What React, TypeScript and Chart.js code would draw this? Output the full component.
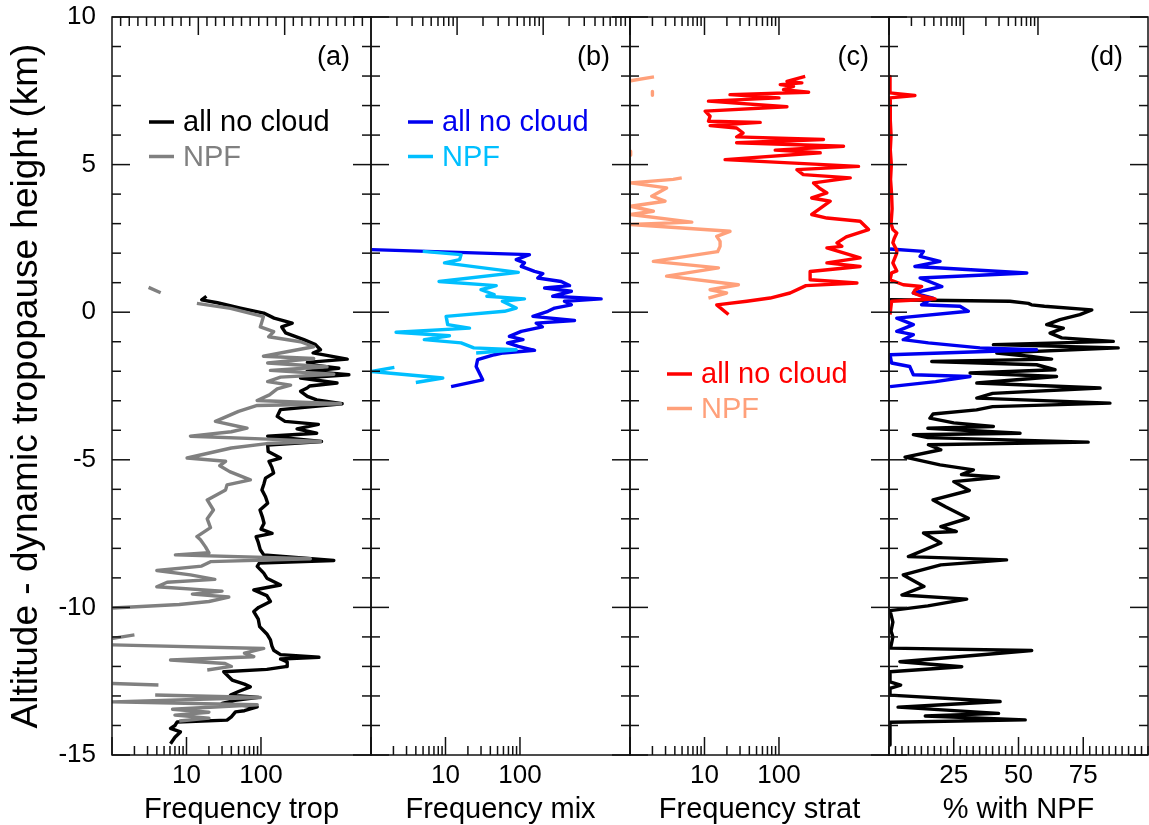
import React, { useEffect, useRef } from 'react';
import { Chart, registerables } from 'chart.js';

Chart.register(...registerables);

const FONT = '"Liberation Sans", Arial, Helvetica, sans-serif';

// ---------- axis ticks ----------
const altLabels = [-15, -10, -5, 0, 5, 10];
const altMarks = [10, 9, 8, 7, 6, 5, 4, 3, 2, 1, 0, -1, -2, -3, -4, -5, -6, -7, -8, -9, -10, -11, -12, -13, -14, -15];
const altMajor = [10, 5, 0, -5, -10, -15];
const freqLabels = [10, 100];
const freqMarks = [1, 2, 3, 4, 5, 6, 7, 8, 9, 10, 20, 30, 40, 50, 60, 70, 80, 90, 100];
const freqMajor = [1, 10, 100];
const freqTopCMarks = [2, 3, 4, 5, 6, 7, 8, 9, 10, 20, 30, 40, 50, 60, 70, 80, 90, 100, 200, 300, 400, 500, 600, 700, 800, 900];
const freqTopCMajor = [10, 100];
const pctLabels = [25, 50, 75];
const pctMarks = [0, 2.5, 5, 7.5, 10, 12.5, 15, 17.5, 20, 22.5, 25, 27.5, 30, 32.5, 35, 37.5, 40, 42.5, 45, 47.5, 50, 52.5, 55, 57.5, 60, 62.5, 65, 67.5, 70, 72.5, 75, 77.5, 80, 82.5, 85, 87.5, 90, 92.5, 95, 97.5, 100];
const pctMajor = [25, 50, 75];
const pctTopMarks = [1, 2, 3, 4, 5, 6, 7, 8, 9, 10, 11, 12, 13, 14, 15, 16, 17, 18, 19, 20, 21, 22, 23, 24, 25, 26, 27, 28, 29];
const pctTopMajor = [10, 20];

// ---------- data: [altitude km, value] ----------
type P = [number, number | null];

const tropAll: P[] = [
  [0.54, 18.5], [0.42, 16], [0.32, 26], [0.14, 53], [-0.03, 109], [-0.2, 150], [-0.37, 263], [-0.5, 190], [-0.7, 214],
  [-0.93, 376], [-1.1, 540], [-1.27, 630], [-1.38, 500], [-1.59, 1440], [-1.7, 420], [-1.78, 463], [-1.9, 1110], [-2.0, 417],
  [-2.12, 1515], [-2.23, 340], [-2.4, 1050], [-2.5, 450], [-2.57, 417], [-2.68, 340], [-2.85, 420], [-2.97, 560], [-3.1, 1230],
  [-3.3, 183], [-3.53, 165], [-3.7, 210], [-3.8, 590], [-3.95, 305], [-4.1, 560], [-4.2, 123], [-4.38, 650], [-4.5, 123],
  [-4.72, 125], [-4.94, 183], [-5.05, 128], [-5.25, 140], [-5.45, 148], [-5.62, 115], [-5.8, 110], [-6.02, 103], [-6.25, 115],
  [-6.47, 123], [-6.7, 97], [-6.95, 105], [-7.15, 110], [-7.35, 100], [-7.49, 141], [-7.6, 86], [-7.8, 92], [-8.05, 98],
  [-8.22, 109], [-8.41, 950], [-8.5, 95], [-8.61, 89], [-8.84, 109], [-9.01, 120], [-9.24, 183], [-9.41, 80], [-9.6, 120],
  [-9.8, 134], [-10.0, 93], [-10.14, 80], [-10.4, 92], [-10.65, 96], [-10.9, 120], [-11.1, 134], [-11.3, 140], [-11.45, 148],
  [-11.6, 183], [-11.69, 600], [-11.75, 183], [-11.85, 225], [-12.0, 225], [-12.1, 120], [-12.18, 31.6], [-12.35, 37],
  [-12.46, 41], [-12.6, 60], [-12.69, 72], [-12.85, 50], [-12.97, 39], [-13.05, 93], [-13.15, 45], [-13.25, 30], [-13.37, 89],
  [-13.5, 60], [-13.54, 45.5], [-13.71, 40], [-13.82, 35], [-13.88, 7.5], [-14.0, 7.0], [-14.1, 6.1], [-14.22, 8.3],
  [-14.4, 7.0], [-14.62, 6.1],
];

const tropNpf: P[] = [
  [0.84, 3.1], [0.66, 4.5], [0.5, null],
  [0.3, 13.8], [0.13, 39], [-0.15, 108], [-0.5, 98], [-0.66, 148], [-0.83, 127], [-1.0, 340], [-1.17, 510], [-1.34, 223],
  [-1.49, 108], [-1.57, 510], [-1.72, 123], [-1.85, 770], [-1.97, 134], [-2.1, 950], [-2.2, 183], [-2.35, 123], [-2.47, 250],
  [-2.6, 165], [-2.8, 130], [-2.99, 89], [-3.1, 1175], [-3.16, 89], [-3.36, 50], [-3.7, 24.5], [-3.93, 65], [-4.05, 40],
  [-4.2, 11.3], [-4.3, 123], [-4.38, 630], [-4.45, 120], [-4.6, 40], [-4.94, 10.2], [-5.05, 33.5], [-5.2, 28], [-5.4, 38],
  [-5.68, 72], [-5.85, 35], [-6.02, 33.5], [-6.36, 19], [-6.7, 23], [-7.0, 19], [-7.3, 21], [-7.6, 13.8], [-7.71, 15.4],
  [-7.95, 18], [-8.15, 20], [-8.22, 7.1], [-8.35, 460], [-8.45, 21], [-8.6, 16], [-8.75, 4.0], [-8.9, 11.3], [-9.05, 24],
  [-9.15, 5.5], [-9.3, 4.0], [-9.45, 30], [-9.55, 12], [-9.65, 37], [-9.8, 20], [-9.9, 8], [-10.02, 1.02], [-10.5, null],
  [-10.93, 2.0], [-11.05, 1.02], [-11.15, null],
  [-11.27, 1.02], [-11.39, 109], [-11.55, 60], [-11.67, 80], [-11.78, 6.1], [-11.9, 33], [-12.0, 40], [-12.12, 19], [-12.3, null],
  [-12.58, 1.02], [-12.63, 4.2], [-12.8, null],
  [-12.97, 3.8], [-13.05, 98], [-13.2, 1.02], [-13.3, 89], [-13.45, 6.5], [-13.55, 20], [-13.65, 7], [-13.75, 20], [-13.85, 8],
];

const mixAll: P[] = [
  [2.12, 1.02], [1.95, 134], [1.78, 89], [1.67, 115], [1.55, 104], [1.38, 157], [1.31, 203], [1.16, 173], [1.04, 358],
  [0.9, 463], [0.82, 214], [0.71, 490], [0.54, 275], [0.45, 1230], [0.37, 395], [0.25, 490], [0.14, 292], [0.03, 237],
  [-0.14, 149], [-0.28, 540], [-0.37, 165], [-0.5, 200], [-0.65, 104], [-0.82, 72], [-0.93, 110], [-1.04, 68], [-1.16, 95],
  [-1.29, 157], [-1.38, 60], [-1.44, 45.5], [-1.61, 27], [-1.84, 25.8], [-2.06, 28.5], [-2.29, 31.6], [-2.52, 11.9],
];

const mixNpf: P[] = [
  [2.06, 4.95], [1.95, 16.2], [1.78, 15.5], [1.67, 9.7], [1.35, 95], [1.04, 8.2], [0.9, 48], [0.76, 30], [0.6, 45],
  [0.54, 36], [0.45, 115], [0.37, 58], [0.14, 89], [0.03, 62], [-0.14, 10.2], [-0.42, 10.7], [-0.54, 21], [-0.68, 2.17],
  [-0.8, 11.3], [-0.93, 5.2], [-1.04, 16.2], [-1.21, 24], [-1.27, 89], [-1.38, 25.8], [-1.6, null],
  [-1.87, 2.06], [-2.01, 1.02], [-2.23, 9.2], [-2.38, 4.0],
];

const stratAll: P[] = [
  [7.99, 225], [7.82, 128], [7.77, 203], [7.71, 104], [7.65, 157], [7.54, 115], [7.45, 250], [7.37, 22], [7.26, 100],
  [7.15, 11.3], [6.96, 128], [6.81, 10.2], [6.64, 11.9], [6.47, 11.3], [6.43, 56], [6.32, 11.9], [6.24, 27], [6.07, 33],
  [5.94, 27], [5.85, 396], [5.74, 27], [5.62, 736], [5.49, 89], [5.4, 358], [5.17, 18.9], [4.94, 1170], [4.83, 174],
  [4.66, 212], [4.55, 906], [4.38, 291], [4.2, 350], [4.04, 440], [3.87, 275], [3.76, 488], [3.5, 350], [3.31, 275],
  [3.19, 440], [3.08, 1230], [2.8, 1597], [2.55, 800], [2.35, 600], [2.23, 700], [2.18, 440], [1.84, 1230], [1.67, 440],
  [1.55, 1230], [1.38, 262], [1.1, 262], [0.99, 1114], [0.9, 230], [0.65, 141], [0.48, 76], [0.37, 37], [0.25, 14.6],
  [-0.08, 21],
];

const stratNpf: P[] = [
  [7.97, 2.1], [7.84, 1.02], [7.6, null],
  [7.48, 2.0], [7.35, 2.0], [6.0, null],
  [5.45, 1.02], [5.32, 1.02], [5.0, null],
  [4.55, 4.95], [4.5, 3.8], [4.38, 1.02], [4.21, 3.1], [3.93, 1.96], [3.76, 2.95], [3.59, 1.02], [3.42, 2.06], [3.31, 1.02],
  [3.05, 6.75], [2.97, 1.02], [2.74, 22], [2.57, 14.6], [2.4, 16.2], [2.23, 16.2], [2.05, 15], [1.72, 2.06], [1.5, 15.4],
  [1.22, 3.1], [0.93, 28.5], [0.76, 11.9], [0.65, 19.8], [0.48, 11.3],
];

const pctTrop: P[] = [
  [0.42, 0.4], [0.37, 46.7], [0.3, 53.8], [0.25, 55], [0.2, 60], [0.08, 78.3], [-0.08, 73.7], [-0.25, 66], [-0.42, 60.9],
  [-0.54, 67.3], [-0.71, 62.2], [-0.87, 66.7], [-0.99, 86.6], [-1.1, 40.3], [-1.21, 88.5], [-1.38, 41.6], [-1.5, 55],
  [-1.59, 62.8], [-1.67, 16.5], [-1.78, 57], [-1.95, 64.1], [-2.06, 31.3], [-2.18, 64.7], [-2.4, 33.9], [-2.57, 81.5],
  [-2.75, 40], [-2.91, 33.9], [-3.08, 85.3], [-3.2, 40], [-3.31, 33.8], [-3.45, 17], [-3.59, 15.8], [-3.75, 25], [-3.87, 40.3],
  [-3.93, 15], [-4.1, 50.6], [-4.15, 9.4], [-4.25, 15], [-4.4, 76.9], [-4.49, 15.2], [-4.66, 20], [-4.91, 6.2], [-5.17, 19.7],
  [-5.34, 32.6], [-5.5, 28], [-5.59, 42.3], [-5.74, 25], [-6.04, 31], [-6.36, 17], [-6.6, 22], [-6.98, 30.6], [-7.26, 20],
  [-7.43, 26], [-7.48, 13.3], [-7.82, 20], [-8.28, 7.5], [-8.39, 45.4], [-8.56, 20], [-8.9, 5.5], [-9.29, 13.5], [-9.58, 5],
  [-9.72, 30], [-9.95, 15], [-10.11, 0.4], [-10.5, 1.5], [-10.8, 0.8], [-11.0, 1.5], [-11.38, 0.6], [-11.46, 55.1],
  [-11.84, 4.2], [-12.01, 28.1], [-12.18, 0.4], [-12.52, 0.4], [-12.63, 4.5], [-12.74, 0.4], [-12.97, 0.4], [-13.19, 42.9],
  [-13.38, 3.5], [-13.59, 42.3], [-13.68, 14], [-13.81, 52.6], [-13.89, 0.4], [-14.66, 0.4],
];

const pctMix: P[] = [
  [2.14, 0.4], [2.06, 13.3], [1.89, 12], [1.72, 19.7], [1.55, 10], [1.33, 53.2], [1.16, 12], [0.87, 20.4], [0.65, 9.4],
  [0.48, 17], [0.25, 12.6], [0.2, 27.4], [0.03, 30.6], [-0.2, 3.0], [-0.42, 9.4], [-0.65, 3.0], [-0.76, 9.4], [-0.93, 5.5],
  [-1.04, 15.2], [-1.21, 35.1], [-1.27, 57], [-1.44, 0.4], [-1.72, 1.0], [-1.84, 8], [-2.12, 9.4], [-2.18, 31.3],
  [-2.35, 18], [-2.52, 0.4],
];

const pctStrat: P[] = [
  [7.99, 0.4], [7.43, 0.4], [7.34, 10], [7.26, 0.4], [7.0, 0.6], [6.5, 0.4], [6.0, 0.8], [5.5, 0.5], [5.0, 0.9], [4.5, 0.6],
  [4.0, 1.0], [3.5, 1.2], [3.0, 0.8], [2.8, 1.5], [2.68, 3.0], [2.5, 2], [2.35, 1.5], [2.1, 3.0], [2.0, 3.0], [1.67, 1.5],
  [1.4, 3], [1.33, 1.0], [1.1, 0.4], [0.93, 5.5], [0.87, 12.6], [0.75, 10], [0.65, 9.4], [0.54, 12.6], [0.45, 17.8],
  [0.42, 12], [0.37, 1.0], [-0.08, 0.4],
];

// ---------- colours ----------
const BLACK = '#000000';
const GRAY = '#808080';
const BLUE = '#0000f0';
const SKY = '#00bfff';
const RED = '#ff0000';
const SALMON = '#ffa07a';

const panels = [
  { bottom: 'xa', top: 'xat', label: '(a)', inset: 21, bMarks: freqMarks, bMajor: freqMajor, tMarks: freqMarks, tMajor: freqMajor,
    legend: { y: 122, items: [['all no cloud', BLACK], ['NPF', GRAY]] } },
  { bottom: 'xb', top: 'xbt', label: '(b)', inset: 20, bMarks: freqMarks, bMajor: freqMajor, tMarks: freqMarks, tMajor: freqMajor,
    legend: { y: 122, items: [['all no cloud', BLUE], ['NPF', SKY]] } },
  { bottom: 'xc', top: 'xct', label: '(c)', inset: 20, bMarks: freqMarks, bMajor: freqMajor, tMarks: freqTopCMarks, tMajor: freqTopCMajor,
    legend: { y: 374, items: [['all no cloud', RED], ['NPF', SALMON]] } },
  { bottom: 'xd', top: 'xdt', label: '(d)', inset: 25, bMarks: pctMarks, bMajor: pctMajor, tMarks: pctTopMarks, tMajor: pctTopMajor,
    legend: null },
];

const framePlugin = {
  id: 'frames',
  afterDatasetsDraw(chart: any) {
    const ctx = chart.ctx as CanvasRenderingContext2D;
    const ys = chart.scales.y;
    const top = ys.top, bottom = ys.bottom;
    const line = (x1: number, y1: number, x2: number, y2: number) => {
      ctx.beginPath(); ctx.moveTo(x1, y1); ctx.lineTo(x2, y2); ctx.stroke();
    };
    ctx.save();
    ctx.strokeStyle = '#111';
    ctx.lineWidth = 1.5;
    for (const p of panels) {
      const xb = chart.scales[p.bottom];
      const xt = chart.scales[p.top];
      const L = xb.left, R = xb.right;
      ctx.strokeRect(L, top, R - L, bottom - top);
      for (const v of altMarks) {
        const py = ys.getPixelForValue(v);
        const len = altMajor.includes(v) ? 18 : 9;
        line(L, py, L + len, py);
        line(R, py, R - len, py);
      }
      for (const v of p.bMarks) {
        const px = xb.getPixelForValue(v);
        const len = p.bMajor.includes(v) ? 18 : 9;
        line(px, bottom, px, bottom - len);
      }
      for (const v of p.tMarks) {
        const px = xt.getPixelForValue(v);
        const len = p.tMajor.includes(v) ? 18 : 9;
        line(px, top, px, top + len);
      }
    }
    ctx.restore();
  },
  afterDraw(chart: any) {
    const ctx = chart.ctx as CanvasRenderingContext2D;
    ctx.save();
    ctx.textBaseline = 'middle';
    for (const p of panels) {
      const xb = chart.scales[p.bottom];
      ctx.fillStyle = '#000';
      ctx.font = `27px ${FONT}`;
      ctx.textAlign = 'right';
      ctx.fillText(p.label, xb.right - p.inset, 58);
      if (p.legend) {
        ctx.textAlign = 'left';
        ctx.font = `29px ${FONT}`;
        p.legend.items.forEach(([txt, col], i) => {
          const y = p.legend!.y + i * 34.5;
          ctx.strokeStyle = col; ctx.lineWidth = 3.5;
          ctx.beginPath(); ctx.moveTo(xb.left + 37, y); ctx.lineTo(xb.left + 62, y); ctx.stroke();
          ctx.fillStyle = col;
          ctx.fillText(txt, xb.left + 71, y + 1);
        });
      }
    }
    ctx.restore();
  },
};

function ds(data: P[], color: string, xAxisID: string, order: number) {
  return {
    data: data.map(([a, v]) => ({ x: v, y: a })),
    borderColor: color,
    backgroundColor: color,
    borderWidth: 3.4,
    pointRadius: 0,
    tension: 0,
    fill: false,
    spanGaps: false,
    borderJoinStyle: 'round',
    xAxisID,
    yAxisID: 'y',
    order,
  };
}

const tickFont = { family: FONT, size: 26 };
const titleFont = { family: FONT, size: 29, lineHeight: 1 };

function bottomAxis(type: string, min: number, max: number, labels: number[], title: string) {
  return {
    type, position: 'bottom', stack: 'bottom', stackWeight: 1, min, max, display: true,
    grid: { display: false, drawTicks: false }, border: { display: false },
    ticks: { autoSkip: false, maxRotation: 0, minRotation: 0, padding: 5, color: '#000', font: tickFont,
      callback: (v: number) => String(v) },
    afterBuildTicks: (s: any) => { s.ticks = labels.map((v) => ({ value: v })); },
    afterFit: (s: any) => { s.height = 70; },
    title: { display: true, text: title, color: '#000', font: titleFont, padding: { top: 0, bottom: 1 } },
  };
}

function topAxis(type: string, min: number, max: number) {
  return {
    type, position: 'top', stack: 'top', stackWeight: 1, min, max, display: true,
    grid: { display: false, drawTicks: false }, border: { display: false },
    ticks: { display: false },
    afterFit: (s: any) => { s.height = 17; },
  };
}

export default function App() {
  const ref = useRef<HTMLCanvasElement>(null);
  useEffect(() => {
    Chart.defaults.font.family = FONT;
    const chart = new Chart(ref.current as HTMLCanvasElement, {
      type: 'line',
      data: {
        datasets: [
          ds(tropAll, BLACK, 'xa', 2),
          ds(tropNpf, GRAY, 'xa', 1),
          ds(mixAll, BLUE, 'xb', 2),
          ds(mixNpf, SKY, 'xb', 1),
          ds(stratAll, RED, 'xc', 2),
          ds(stratNpf, SALMON, 'xc', 1),
          ds(pctTrop, BLACK, 'xd', 3),
          ds(pctMix, BLUE, 'xd', 2),
          ds(pctStrat, RED, 'xd', 1),
        ] as any,
      },
      options: {
        animation: false,
        responsive: false,
        maintainAspectRatio: false,
        events: [],
        layout: { padding: { left: 0, right: 1, top: 0, bottom: 0 } },
        plugins: { legend: { display: false }, tooltip: { enabled: false }, title: { display: false } },
        scales: {
          y: {
            type: 'linear', position: 'left', min: -15, max: 10,
            grid: { display: false, drawTicks: true, tickLength: 16 }, border: { display: false },
            ticks: { autoSkip: false, padding: 0, color: '#000', font: tickFont },
            afterBuildTicks: (s: any) => { s.ticks = altLabels.map((v) => ({ value: v })); },
            afterFit: (s: any) => { s.width = 112; },
            title: { display: true, text: 'Altitude - dynamic tropopause height (km)', color: '#000',
              font: { family: FONT, size: 37, lineHeight: 1 }, padding: { top: 8, bottom: 0 } },
          },
          xa: bottomAxis('logarithmic', 1, 3000, freqLabels, 'Frequency trop'),
          xb: bottomAxis('logarithmic', 1, 3000, freqLabels, 'Frequency mix'),
          xc: bottomAxis('logarithmic', 1, 3000, freqLabels, 'Frequency strat'),
          xd: bottomAxis('linear', 0, 100, pctLabels, '% with NPF'),
          xat: topAxis('logarithmic', 1, 3000),
          xbt: topAxis('logarithmic', 1, 3000),
          xct: topAxis('logarithmic', 1, 1020),
          xdt: topAxis('linear', 0, 30),
        } as any,
      },
      plugins: [framePlugin],
    } as any);
    return () => chart.destroy();
  }, []);
  return (
    <div style={{ position: 'absolute', left: 0, top: 0, width: 1149, height: 825, background: '#fff' }}>
      <canvas ref={ref} width={1149} height={825} style={{ display: 'block', width: 1149, height: 825 }} />
    </div>
  );
}
